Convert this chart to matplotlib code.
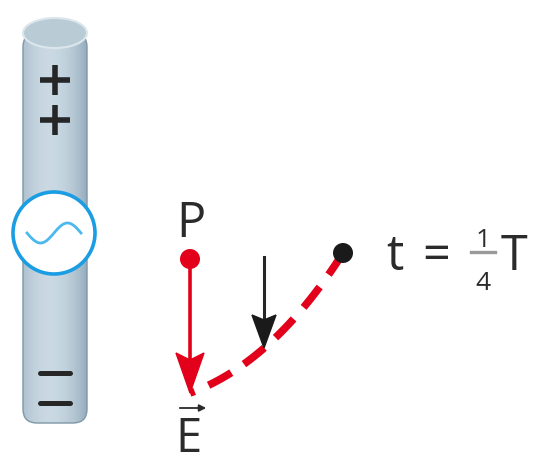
import numpy as np
import matplotlib.pyplot as plt
from matplotlib.patches import Circle, Ellipse, Polygon, FancyBboxPatch

# canvas in pixel units (y downwards)
W, H = 560, 463

# rod
rod_x = [23, 87]
rod_y = [33, 410]
plus_y = [80, 120]
minus_y = [373, 403]
src_center = (54, 233)
src_radius = 41

# field point P and E arrow
p_pos = (190, 259)
e_tip = (190, 393)
# wave front dot and direction arrow
dot_pos = (343, 253)
ctrl = (273, 363)
down_arrow = [(264, 257), (264, 348)]

red = '#e2001a'
dark = '#262626'

plt.rcParams['font.family'] = ['Open Sans', 'DejaVu Sans']
fig = plt.figure(figsize=(W / 100, H / 100), dpi=100)
ax = fig.add_axes([0, 0, 1, 1])
ax.set_xlim(0, W)
ax.set_ylim(H, 0)
ax.axis('off')

# rod body with horizontal gradient
x0, x1 = rod_x
y0, y1 = rod_y
grad = np.linspace(0, 1, 200)
shade = 1 - 0.6 * ((grad - 0.42) / 0.58) ** 2
c_dark = np.array([0.45, 0.56, 0.64])
c_light = np.array([0.79, 0.85, 0.89])
img = c_dark[None, :] + (c_light - c_dark)[None, :] * shade[:, None]
img = np.repeat(img[None, :, :], 2, axis=0)
body = FancyBboxPatch((x0, y0), x1 - x0, y1 - y0 + 13, boxstyle='round,pad=0,rounding_size=14',
                      fc='none', ec='#7e97a6', lw=1.0, zorder=2)
ax.add_patch(body)
im = ax.imshow(img, extent=[x0, x1, y1 + 13, y0], aspect='auto', zorder=1)
im.set_clip_path(body)
ax.add_patch(Ellipse(((x0 + x1) / 2, y0), x1 - x0, 30, fc='#b9ccd6', ec='#dbe6ec', lw=1.5, zorder=2))

# charges
cx = (x0 + x1) / 2
for yy in plus_y:
    ax.plot([cx - 15, cx + 15], [yy, yy], color=dark, lw=4, solid_capstyle='butt', zorder=3)
    ax.plot([cx, cx], [yy - 15, yy + 15], color=dark, lw=4, solid_capstyle='butt', zorder=3)
for yy in minus_y:
    ax.plot([cx - 15, cx + 15], [yy, yy], color=dark, lw=3.6, solid_capstyle='round', zorder=3)

# AC source
ax.add_patch(Circle(src_center, src_radius, fc='white', ec='#1a9de2', lw=2.6, zorder=4))
sx = np.linspace(-27, 27, 100)
ax.plot(src_center[0] + sx, src_center[1] - 10 * np.sin(sx / 27 * np.pi), color='#4bb8ef', lw=2, zorder=5)

# dashed red curve (quadratic bezier)
t = np.linspace(0, 1, 100)[:, None]
pts = (1 - t) ** 2 * np.array(dot_pos) + 2 * (1 - t) * t * np.array(ctrl) + t ** 2 * np.array(e_tip)
ax.plot(pts[:, 0], pts[:, 1], color=red, lw=5.5, dashes=(3.4, 2.0), dash_capstyle='butt', zorder=5)

# E arrow
ax.plot([p_pos[0], e_tip[0]], [p_pos[1], e_tip[1] - 30], color=red, lw=2.6, zorder=6)
ex, ey = e_tip
ax.add_patch(Polygon([(ex - 14, ey - 40), (ex, ey - 33), (ex + 14, ey - 40), (ex, ey)],
                     closed=True, fc=red, ec=red, zorder=6))
ax.add_patch(Circle(p_pos, 10, fc=red, ec='none', zorder=7))

# black dot and down arrow
ax.add_patch(Circle(dot_pos, 10, fc='#1a1a1a', ec='none', zorder=7))
(ax0, ay0), (ax1, ay1) = down_arrow
ax.plot([ax0, ax1], [ay0, ay1 - 25], color=dark, lw=2.2, zorder=6)
ax.add_patch(Polygon([(ax1 - 12, ay1 - 33), (ax1, ay1 - 28), (ax1 + 12, ay1 - 33), (ax1, ay1)],
                     closed=True, fc='#1a1a1a', ec='#1a1a1a', zorder=6))

# labels
txt = dict(color='#2b2b2b', fontsize=35, zorder=8)
ax.text(176, 237, 'P', ha='left', va='baseline', **txt)
ax.text(175, 452, 'E', ha='left', va='baseline', color='#2b2b2b', fontsize=34, zorder=8)
ax.annotate('', xy=(209, 408), xytext=(177, 408),
            arrowprops=dict(arrowstyle='-|>', color='#2b2b2b', lw=1.3, mutation_scale=10), zorder=8)
ax.text(386, 270, 't', ha='left', va='baseline', **txt)
ax.text(422, 270, '=', ha='left', va='baseline', **txt)
ax.text(483, 247, '1', ha='center', va='baseline', color='#2b2b2b', fontsize=19)
ax.plot([471, 495], [252, 252], color='#9a9a9a', lw=2.4)
ax.text(483, 290, '4', ha='center', va='baseline', color='#2b2b2b', fontsize=19)
ax.text(501, 270, 'T', ha='left', va='baseline', **txt)

fig.savefig('out.png', dpi=100)
